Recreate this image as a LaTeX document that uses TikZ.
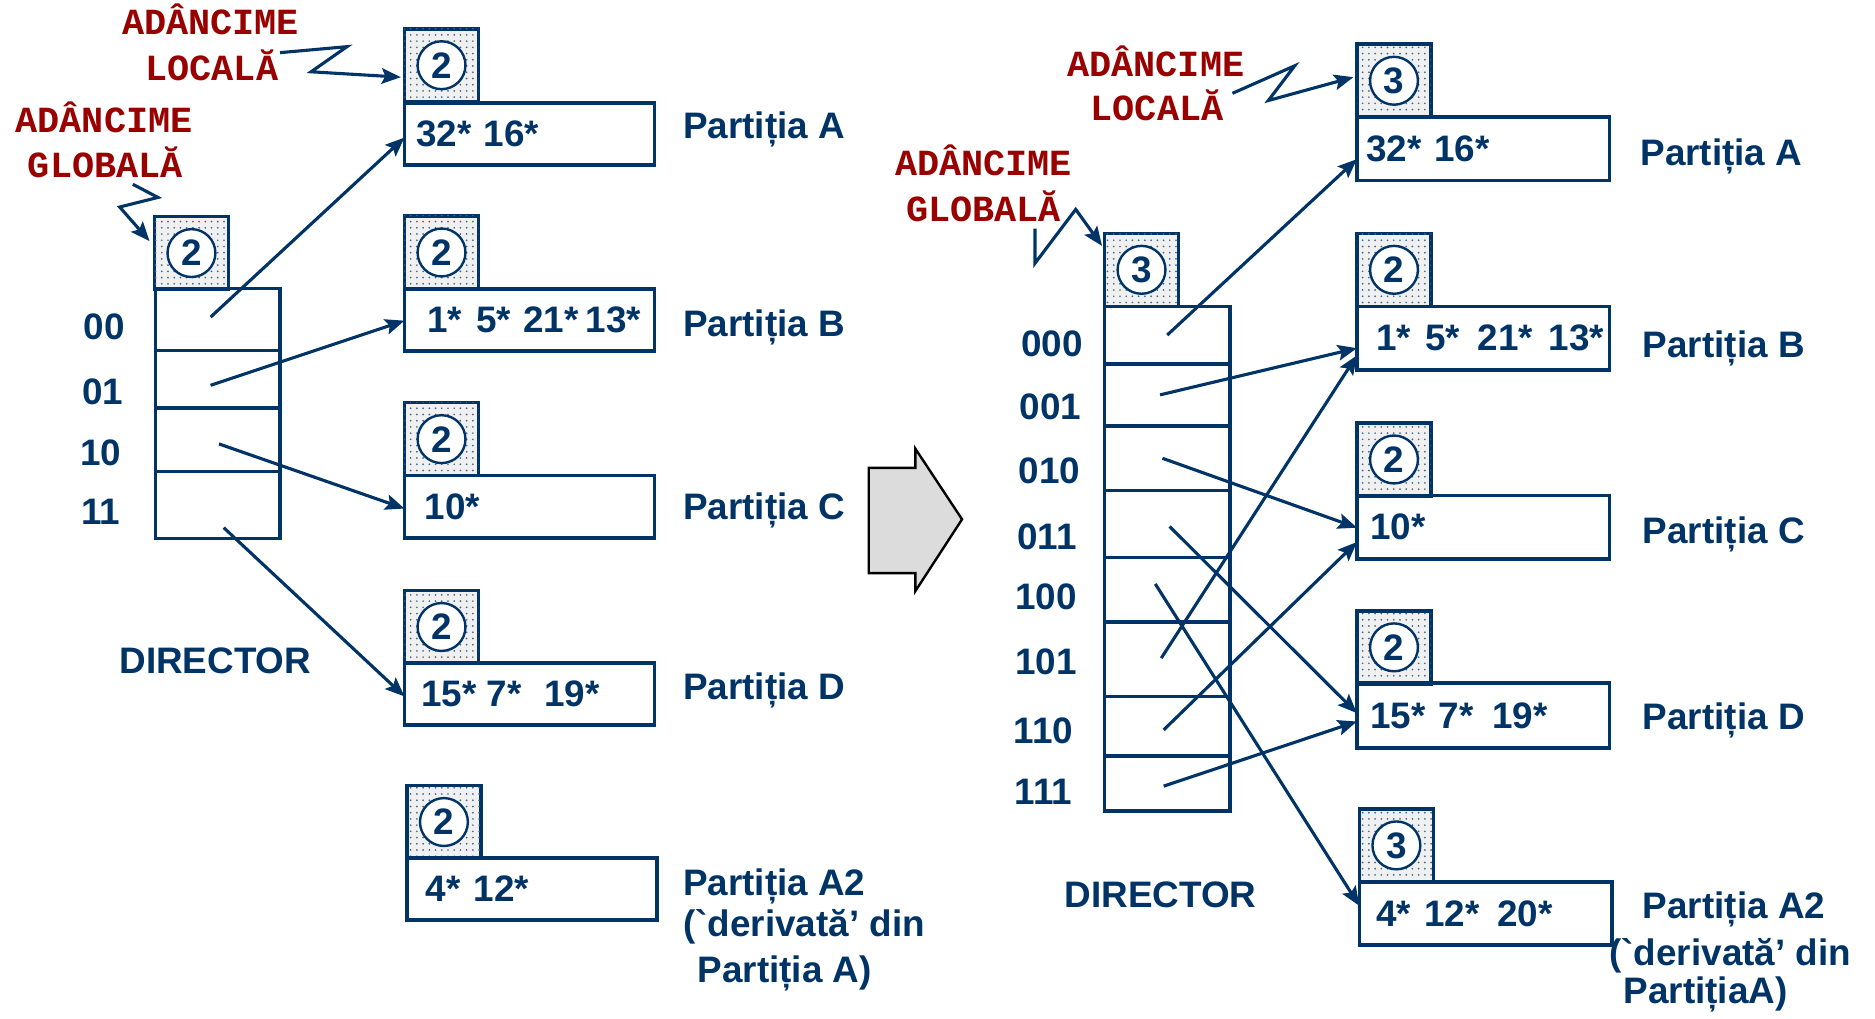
\documentclass[tikz,border=0pt]{standalone}
\usepackage{fontspec}
\setmainfont{Liberation Sans}
\newfontfamily\redmono{Liberation Mono}
\usetikzlibrary{arrows.meta,patterns.meta,calc}
\definecolor{navy}{RGB}{0,51,102}
\definecolor{dred}{RGB}{153,0,0}
\definecolor{arrgray}{RGB}{220,220,220}
\font\gravefnt="Liberation Sans/B" at 15.4pt
\newcommand{\grv}{{\gravefnt\char"60}}
\begin{document}
\begin{tikzpicture}[x=0.5pt,y=-0.5pt,
  btxt/.style={font=\fontsize{15.4}{18}\selectfont\bfseries, text=navy, inner sep=0pt, outer sep=0pt},
  redlbl/.style={font=\redmono\fontsize{15.4}{18}\selectfont\bfseries, text=dred, inner sep=0pt, outer sep=0pt},
  dsq/.style={draw=navy, line width=1.5pt, fill=black!6,
    postaction={pattern={Dots[distance=2.6pt,radius=0.4pt]}, pattern color=navy!75},
    minimum width=31pt, minimum height=30.5pt, inner sep=0pt, outer sep=0pt},
  dig/.style={circle, draw=navy, line width=1pt, fill=white, minimum size=20pt, inner sep=0pt,
    font=\fontsize{15.4}{18}\selectfont\bfseries, text=navy},
  bkt/.style={draw=navy, line width=1.5pt, minimum height=26pt, inner sep=0pt, outer sep=0pt,
    font=\fontsize{15.4}{18}\selectfont\bfseries, text=navy, align=left},
  dcell/.style={draw=navy, line width=1.5pt, inner sep=0pt, outer sep=0pt},
  ptr/.style={draw=navy, line width=1.3pt, -{Stealth[length=8pt,width=6.5pt,inset=1.5pt]}},
  bigarrow/.style={draw=black, line width=1pt, fill=arrgray, line join=miter}
]
\useasboundingbox (0,0) rectangle (1567,850.8);

% ================= LEFT =================
% red labels
\node[redlbl, anchor=base] (lloc1) at (176,29) {ADÂNCIME};
\node[redlbl, anchor=base] (lloc2) at (177,67) {LOCALĂ};
\node[redlbl, anchor=base] (lglo1) at (87,111) {ADÂNCIME};
\node[redlbl, anchor=base] (lglo2) at (88,148) {GLOBALĂ};

% global depth
\node[dsq] (gsL) at (160,211.5) {};
\node[dig] (gdL) at (gsL.center) {2};

% directory cells
\node[dcell, minimum width=52pt, minimum height=26pt] (l00) at (182,267) {};
\node[dcell, minimum width=52pt, minimum height=24pt] (l01) at (182,317) {};
\node[dcell, minimum width=52pt, minimum height=26.5pt] (l10) at (182,367.5) {};
\node[dcell, minimum width=52pt, minimum height=28pt] (l11) at (182,422) {};

\node[btxt, anchor=base] (n00) at (87,284) {00};
\node[btxt, anchor=base] (n01) at (86,338) {01};
\node[btxt, anchor=base] (n10) at (84,389) {10};
\node[btxt, anchor=base] (n11) at (84,438) {11};
\node[btxt, anchor=base] (dirL) at (180,563) {DIRECTOR};

% buckets
\node[dsq] (lsA) at (369,54.5) {};
\node[dig] (ldA) at (lsA.center) {2};
\node[bkt, text width=104.5pt] (lbA) at (442.5,112) {\hspace*{5pt}32* 16*};
\node[dsq] (lsB) at (369,211) {};
\node[dig] (ldB) at (lsB.center) {2};
\node[bkt, text width=104.5pt] (lbB) at (442.5,267.5) {\hspace*{9.5pt}1*\hspace{6pt}5*\hspace{5pt}21*\hspace{3pt}13*};
\node[dsq] (lsC) at (369,367) {};
\node[dig] (ldC) at (lsC.center) {2};
\node[bkt, text width=104.5pt] (lbC) at (442.5,423.5) {\hspace*{8.5pt}10*};
\node[dsq] (lsD) at (369,524) {};
\node[dig] (ldD) at (lsD.center) {2};
\node[bkt, text width=104.5pt] (lbD) at (442.5,580) {\hspace*{7pt}15*\hspace{4.3pt}7*\hspace{9.5pt}19*};
\node[dsq] (lsE) at (371,687) {};
\node[dig] (ldE) at (lsE.center) {2};
\node[bkt, text width=104.5pt] (lbE) at (444.5,743) {\hspace*{8pt}4*\hspace{5.5pt}12*};

\node[btxt, anchor=base west] (plA) at (571,116) {Partiția A};
\node[btxt, anchor=base west] (plB) at (571,281) {Partiția B};
\node[btxt, anchor=base west] (plC) at (571,434) {Partiția C};
\node[btxt, anchor=base west] (plD) at (571,585) {Partiția D};
\node[btxt, anchor=base west] (plE1) at (571,748) {Partiția A2};
\node[btxt, anchor=base west] (plE2) at (571,783) {(\grv derivată’ din};
\node[btxt, anchor=base west] (plE3) at (583,821) {Partiția A)};

% pointers
\draw[ptr] ($(l00.center)+(-6,-2)$) -- ($(lbA.west)+(0,3)$);
\draw[ptr] ($(l01.center)+(-6,5)$) -- ($(lbB.west)+(0,0.5)$);
\draw[ptr] ($(l10.center)+(1,3.5)$) -- ($(lbC.west)+(0,1.5)$);
\draw[ptr] ($(l11.center)+(5,19)$) -- ($(lbD.west)+(0,2)$);

% zigzag callouts
\coordinate (zl1) at (234,44);
\coordinate (zl2) at (290,39);
\coordinate (zl3) at (260,60);
\draw[ptr] (zl1) -- (zl2) -- (zl3) -- ($(lsA.west)+(-3,10)$);
\coordinate (zg1) at (111,154);
\coordinate (zg2) at (132,165);
\coordinate (zg3) at (100,173);
\draw[ptr] (zg1) -- (zg2) -- (zg3) -- ($(gsL.west)+(-4,-10)$);

% ================= BIG ARROW =================
\draw[bigarrow] (726,391) -- (765,391) -- (765,375) -- (804,434) -- (765,494) -- (765,479) -- (726,479) -- cycle;

% ================= RIGHT =================
\node[redlbl, anchor=base] (rloc1) at (966,64) {ADÂNCIME};
\node[redlbl, anchor=base] (rloc2) at (967,101) {LOCALĂ};
\node[redlbl, anchor=base] (rglo1) at (822,147) {ADÂNCIME};
\node[redlbl, anchor=base] (rglo2) at (822,185) {GLOBALĂ};

\node[dsq] (gsR) at (954,225.5) {};
\node[dig] (gdR) at (gsR.center) {3};

\node[dcell, minimum width=52.5pt, minimum height=24pt] (r000) at (975.5,280) {};
\node[dcell, minimum width=52.5pt, minimum height=26pt] (r001) at (975.5,330) {};
\node[dcell, minimum width=52.5pt, minimum height=27pt] (r010) at (975.5,383) {};
\node[dcell, minimum width=52.5pt, minimum height=28pt] (r011) at (975.5,438) {};
\node[dcell, minimum width=52.5pt, minimum height=27pt] (r100) at (975.5,493) {};
\node[dcell, minimum width=52.5pt, minimum height=31pt] (r101) at (975.5,551) {};
\node[dcell, minimum width=52.5pt, minimum height=25pt] (r110) at (975.5,607) {};
\node[dcell, minimum width=52.5pt, minimum height=23pt] (r111) at (975.5,655) {};

\node[btxt, anchor=base] (m000) at (879,298) {000};
\node[btxt, anchor=base] (m001) at (878,351) {001};
\node[btxt, anchor=base] (m010) at (877,404) {010};
\node[btxt, anchor=base] (m011) at (875,459) {011};
\node[btxt, anchor=base] (m100) at (874,509) {100};
\node[btxt, anchor=base] (m101) at (874,564) {101};
\node[btxt, anchor=base] (m110) at (872,621) {110};
\node[btxt, anchor=base] (m111) at (872,672) {111};
\node[btxt, anchor=base] (dirR) at (970,758) {DIRECTOR};

\node[dsq] (rsA) at (1165,67.5) {};
\node[dig] (rdA) at (rsA.center) {3};
\node[bkt, text width=105.5pt, minimum height=26.5pt] (rbA) at (1239.5,124.5) {\hspace*{4pt}32* 16*};
\node[dsq] (rsB) at (1165,225.5) {};
\node[dig] (rdB) at (rsB.center) {2};
\node[bkt, text width=105.5pt, minimum height=26.5pt] (rbB) at (1239.5,282.5) {\hspace*{8pt}1*\hspace{6pt}5*\hspace{7.5pt}21*\hspace{6.5pt}13*};
\node[dsq] (rsC) at (1165,384) {};
\node[dig] (rdC) at (rsC.center) {2};
\node[bkt, text width=105.5pt, minimum height=26.5pt] (rbC) at (1239.5,440.5) {\hspace*{5.5pt}10*};
\node[dsq] (rsD) at (1165,541) {};
\node[dig] (rdD) at (rsD.center) {2};
\node[bkt, text width=105.5pt, minimum height=27pt] (rbD) at (1239.5,598) {\hspace*{5.5pt}15*\hspace{5.5pt}7*\hspace{8pt}19*};
\node[dsq] (rsE) at (1167,706.5) {};
\node[dig] (rdE) at (rsE.center) {3};
\node[bkt, text width=105.5pt, minimum height=26.5pt] (rbE) at (1241.5,763.5) {\hspace*{7pt}4*\hspace{5.5pt}12*\hspace{7.5pt}20*};

\node[btxt, anchor=base west] (prA) at (1371,138) {Partiția A};
\node[btxt, anchor=base west] (prB) at (1373,299) {Partiția B};
\node[btxt, anchor=base west] (prC) at (1373,454) {Partiția C};
\node[btxt, anchor=base west] (prD) at (1373,610) {Partiția D};
\node[btxt, anchor=base west] (prE1) at (1373,768) {Partiția A2};
\node[btxt, anchor=base west] (prE2) at (1345,807) {(\grv derivată’ din};
\node[btxt, anchor=base west] (prE3) at (1357,839) {PartițiaA)};

% pointers
\draw[ptr] (r000.center) -- ($(rbA.west)+(0,8.5)$);
\draw[ptr] ($(r001.center)+(-6,0)$) -- ($(rbB.west)+(0,8.5)$);
\draw[ptr] ($(r010.center)+(-4,0)$) -- ($(rbC.west)+(0,0.5)$);
\draw[ptr] ($(r011.center)+(2,2)$) -- ($(rbD.west)+(0,-2)$);
\draw[ptr] ($(r100.center)+(-10,-5)$) -- ($(rbE.west)+(0,-6.5)$);
\draw[ptr] ($(r101.center)+(-5,-1)$) -- ($(rbB.west)+(0,14.5)$);
\draw[ptr] ($(r110.center)+(-3,3)$) -- ($(rbC.west)+(0,12.5)$);
\draw[ptr] ($(r111.center)+(-3,2)$) -- ($(rbD.west)+(0,5)$);

% zigzag callouts
\coordinate (yl1) at (1030,78);
\coordinate (yl2) at (1082,55);
\coordinate (yl3) at (1060,84);
\draw[ptr] (yl1) -- (yl2) -- (yl3) -- ($(rsA.west)+(-3,-3)$);
\coordinate (yg1) at (865,191);
\coordinate (yg2) at (865,220);
\coordinate (yg3) at (899,175);
\draw[ptr] (yg1) -- (yg2) -- (yg3) -- ($(gsR.west)+(-2,-20)$);
\end{tikzpicture}
\end{document}
